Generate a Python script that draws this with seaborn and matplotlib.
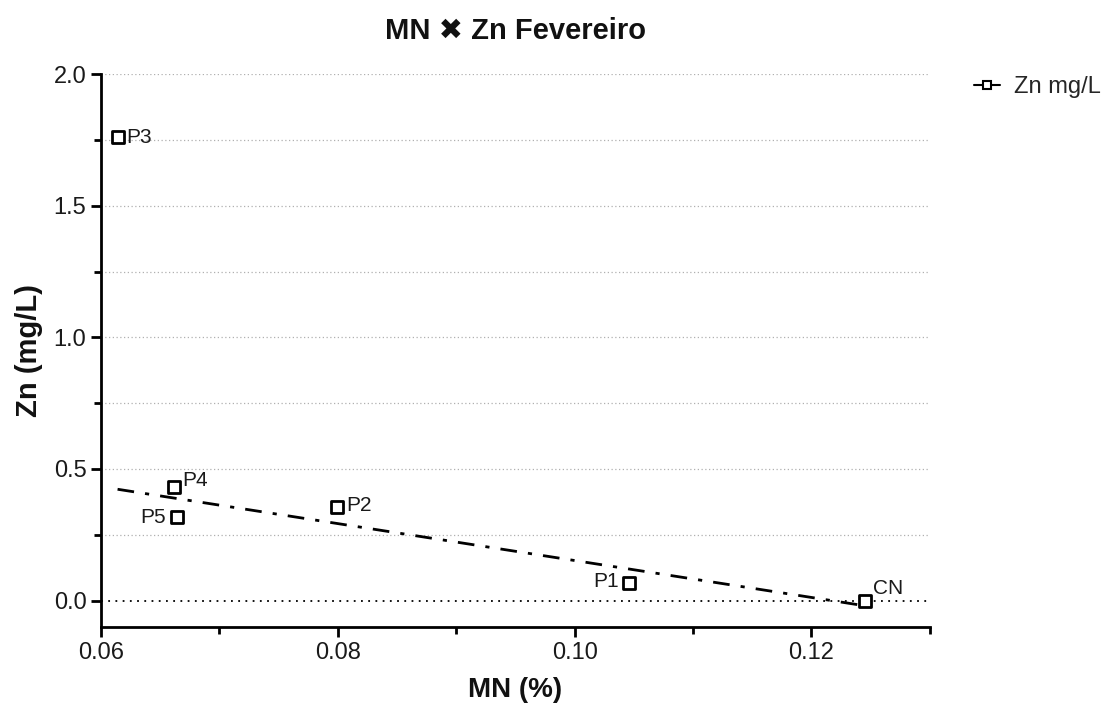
import numpy as np
import pandas as pd
import matplotlib
matplotlib.use("Agg")
import matplotlib.pyplot as plt
import seaborn as sns
from matplotlib.ticker import MultipleLocator, FormatStrFormatter
from matplotlib.lines import Line2D

labels = ["CN", "P1", "P2", "P3", "P4", "P5"]
mn_pct = [0.1245, 0.1046, 0.0799, 0.0614, 0.0662, 0.0664]
zn_mgl = [0.000, 0.068, 0.357, 1.760, 0.430, 0.316]

sns.set_theme(style="white")
plt.rcParams["font.family"] = ["Liberation Sans", "DejaVu Sans"]

df = pd.DataFrame({"label": labels, "MN": mn_pct, "Zn": zn_mgl})

fig = plt.figure(figsize=(11.11, 7.06), dpi=100)
ax = fig.add_axes([0.0909, 0.112, 0.746, 0.783])

# grid lines
for yv in np.arange(0.25, 2.01, 0.25):
    ax.axhline(yv, color="#b0b0b0", lw=0.9, ls=(0, (1, 2)), zorder=0)
ax.axhline(0, color="black", lw=1.3, ls=(0, (1, 3)), zorder=1)

# linear trend (fit excluding the outlier P3)
fit_df = df[df["label"] != "P3"]
slope, intercept = np.polyfit(fit_df["MN"], fit_df["Zn"], 1)
xs = np.array([df["MN"].min(), df["MN"].max()])
ax.plot(xs, slope * xs + intercept, color="black", lw=2, ls=(0, (6, 4, 1.5, 4)), zorder=2)

sns.scatterplot(data=df, x="MN", y="Zn", marker="s", s=75, facecolor="white",
                edgecolor="black", linewidth=2, ax=ax, zorder=3, legend=False)

offsets = {"CN": (6, 9, "left"), "P1": (-7, 1, "right"),
           "P2": (7, 1, "left"), "P3": (6, 0, "left"),
           "P4": (6, 5, "left"), "P5": (-8, 0, "right")}
for lab, xv, yv in zip(labels, mn_pct, zn_mgl):
    dx, dy, ha = offsets[lab]
    ax.annotate(lab, (xv, yv), xytext=(dx, dy), textcoords="offset points",
                ha=ha, va="center", fontsize=15, color="#1a1a1a")

ax.set_xlim(0.06, 0.13)
ax.set_ylim(-0.1, 2.0)
ax.xaxis.set_major_locator(MultipleLocator(0.02))
ax.xaxis.set_minor_locator(MultipleLocator(0.01))
ax.yaxis.set_major_locator(MultipleLocator(0.5))
ax.yaxis.set_minor_locator(MultipleLocator(0.25))
ax.xaxis.set_major_formatter(FormatStrFormatter("%.2f"))
ax.yaxis.set_major_formatter(FormatStrFormatter("%.1f"))
ax.tick_params(axis="both", which="major", length=7, width=2, direction="out",
               labelsize=17, color="black", labelcolor="#1a1a1a", bottom=True, left=True)
ax.tick_params(axis="both", which="minor", length=5, width=2, direction="out",
               color="black", bottom=True, left=True)

for s in ["top", "right"]:
    ax.spines[s].set_visible(False)
for s in ["left", "bottom"]:
    ax.spines[s].set_color("black")
    ax.spines[s].set_linewidth(2)

ax.set_xlabel("MN (%)", fontsize=20, fontweight="bold", labelpad=10, color="#111111")
ax.set_ylabel("Zn (mg/L)", fontsize=21, fontweight="bold", labelpad=8, color="#111111")
ax.set_title("MN ✖ Zn Fevereiro", fontsize=21, fontweight="bold", pad=25, color="#111111")

handle = Line2D([0], [0], color="black", lw=1.5, marker="s", markersize=6,
                markerfacecolor="white", markeredgecolor="black", markeredgewidth=1.5)
ax.legend([handle], ["Zn mg/L"], loc="upper left", bbox_to_anchor=(1.028, 1.035),
          frameon=False, fontsize=17, handlelength=1.1, handletextpad=0.6)

fig.savefig("out.png", dpi=100)
